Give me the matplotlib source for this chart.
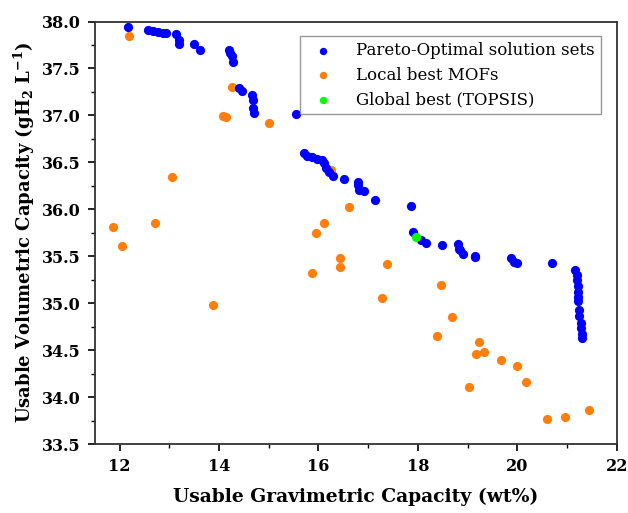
import matplotlib
matplotlib.use("Agg")
import matplotlib.pyplot as plt
from matplotlib.ticker import MultipleLocator

# Pareto-optimal solution sets (wt%, g/L)
pareto_x = [12.17, 12.57, 12.67, 12.77, 12.87, 12.93, 13.14, 13.19, 13.20, 13.49, 13.62,
            14.20, 14.22, 14.25, 14.28, 14.40, 14.46, 14.67, 14.68, 14.69, 14.71, 15.54,
            15.71, 15.76, 15.86, 15.98, 16.08, 16.11, 16.15, 16.21, 16.30, 16.52,
            16.79, 16.80, 16.81, 16.91, 17.13, 17.86, 17.90, 18.07, 18.17, 18.49,
            18.80, 18.82, 18.85, 18.90, 19.14, 19.14, 19.88, 19.93, 20.00, 20.70,
            21.17, 21.20, 21.21, 21.22, 21.22, 21.22, 21.22, 21.24, 21.24, 21.29,
            21.29, 21.30, 21.30]
pareto_y = [37.945, 37.91, 37.90, 37.89, 37.88, 37.88, 37.87, 37.80, 37.76, 37.76, 37.70,
            37.70, 37.66, 37.63, 37.57, 37.29, 37.26, 37.22, 37.16, 37.08, 37.03, 37.01,
            36.60, 36.57, 36.56, 36.54, 36.52, 36.49, 36.44, 36.40, 36.35, 36.32,
            36.29, 36.26, 36.21, 36.19, 36.10, 36.03, 35.76, 35.67, 35.64, 35.62,
            35.63, 35.58, 35.57, 35.52, 35.50, 35.49, 35.48, 35.44, 35.43, 35.43,
            35.35, 35.30, 35.25, 35.18, 35.12, 35.07, 35.02, 34.93, 34.86, 34.79,
            34.74, 34.67, 34.63]

# Local best MOFs
local_x = [12.19, 14.25, 14.08, 14.14, 15.00, 13.05, 11.87, 12.71, 12.05, 13.88,
           16.26, 16.61, 16.12, 15.96, 16.43, 16.43, 15.86, 17.38, 18.47, 17.27,
           18.69, 18.38, 19.23, 19.17, 19.33, 19.67, 19.99, 19.03, 20.17, 20.60,
           20.96, 21.45]
local_y = [37.85, 37.30, 36.99, 36.98, 36.92, 36.34, 35.81, 35.85, 35.61, 34.98,
           36.42, 36.02, 35.85, 35.75, 35.48, 35.39, 35.32, 35.42, 35.19, 35.06,
           34.85, 34.65, 34.59, 34.46, 34.48, 34.39, 34.33, 34.11, 34.16, 33.77,
           33.79, 33.86]

# Global best (TOPSIS)
global_x = [17.96]
global_y = [35.70]

plt.rcParams['font.family'] = ['DejaVu Serif']
plt.rcParams['mathtext.default'] = 'regular'

fig = plt.figure(figsize=(6.28, 5.13), dpi=100)
ax = fig.add_axes([0.151, 0.1345, 0.831, 0.8235])

ax.scatter(pareto_x, pareto_y, s=44, color='#0000ff', linewidths=0, label='Pareto-Optimal solution sets', zorder=3)
ax.scatter(local_x, local_y, s=44, color='#ff7f0e', linewidths=0, label='Local best MOFs', zorder=2)
ax.scatter(global_x, global_y, s=44, color='#00ff00', linewidths=0, label='Global best (TOPSIS)', zorder=4)

ax.set_xlim(11.5, 22)
ax.set_ylim(33.5, 38)
ax.xaxis.set_major_locator(MultipleLocator(2))
ax.xaxis.set_minor_locator(MultipleLocator(1))
ax.yaxis.set_major_locator(MultipleLocator(0.5))
ax.yaxis.set_minor_locator(MultipleLocator(0.25))
ax.yaxis.set_major_formatter(matplotlib.ticker.FormatStrFormatter('%.1f'))

ax.tick_params(which='major', direction='out', length=5, width=1.2, labelsize=11.5, pad=5)
ax.tick_params(which='minor', direction='out', length=3, width=1.0)
for lab in ax.get_xticklabels() + ax.get_yticklabels():
    lab.set_fontweight('bold')
for sp in ax.spines.values():
    sp.set_linewidth(1.3)
    sp.set_color('#333333')

ax.set_xlabel('Usable Gravimetric Capacity (wt%)', fontsize=13.5, fontweight='bold', labelpad=9)
ax.set_ylabel('Usable Volumetric Capacity (gH$_2$ L$^{-1}$)', fontsize=13, fontweight='bold')

leg = ax.legend(loc='upper right', fontsize=12, frameon=True, fancybox=False,
                edgecolor='#808080', handletextpad=1.0, borderpad=0.35,
                labelspacing=0.45, markerscale=0.8, bbox_to_anchor=(0.985, 0.985))
leg.get_frame().set_linewidth(1.0)

fig.savefig('out.png', dpi=100)
